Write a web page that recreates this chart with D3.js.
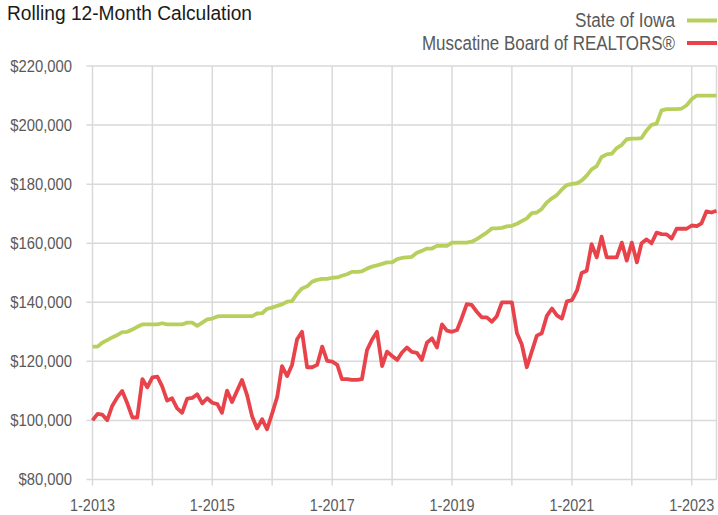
<!DOCTYPE html>
<html>
<head>
<meta charset="utf-8">
<script src="https://cdn.jsdelivr.net/npm/d3@7"></script>
<style>
  html, body { margin: 0; padding: 0; background: #fff; }
  svg { display: block; }
  text { font-family: "Liberation Sans", Arial, sans-serif; }
</style>
</head>
<body>
<svg id="chart" width="718" height="515"></svg>
<script>
const title = "Rolling 12-Month Calculation";
const seriesNames = ["State of Iowa", "Muscatine Board of REALTORS®"];
const seriesColors = ["#b6cf5d", "#e8434b"];
const startDate = new Date(2013, 0, 1);
const endDate = new Date(2023, 5, 1);
const xTickLabels = ["1-2013", "1-2015", "1-2017", "1-2019", "1-2021", "1-2023"];
const yTicks = [80000, 100000, 120000, 140000, 160000, 180000, 200000, 220000];

// State of Iowa (thousands of dollars), monthly Jan 2013 - Jun 2023
const iowa = [
  125, 125, 126.3, 127.2, 128.1, 128.9, 129.9, 130, 130.8, 131.7, 132.5, 132.5,
  132.5, 132.5, 132.9, 132.5, 132.5, 132.5, 132.5, 133.1, 133.1, 132, 133.1, 134.2,
  134.5, 135.2, 135.3, 135.3, 135.3, 135.3, 135.3, 135.3, 135.3, 136.2, 136.3, 137.8,
  138.2, 138.8, 139.3, 140.2, 140.4, 142.9, 144.7, 145.4, 147, 147.6, 147.9, 147.9,
  148.3, 148.4, 149, 149.5, 150.3, 150.3, 150.5, 151.4, 152.1, 152.5, 153, 153.5,
  153.5, 154.6, 155, 155.2, 155.4, 156.8, 157.4, 158.2, 158.2, 159.1, 159.1, 159.1,
  160.2, 160.2, 160.2, 160.2, 160.5, 161.4, 162.5, 163.6, 165, 165, 165.2, 165.7,
  165.9, 166.6, 167.5, 168.4, 170.2, 170.4, 171.6, 173.8, 175.2, 176.3, 178.2, 179.7,
  180.1, 180.3, 181.2, 182.9, 185, 186.1, 189.2, 190.1, 190.3, 192.2, 193.3, 195.2,
  195.4, 195.4, 195.6, 198.2, 200.1, 200.5, 205, 205.4, 205.4, 205.4, 205.6, 206.7,
  208.8, 210, 210, 210, 210, 210
];
// Muscatine Board of REALTORS® (thousands of dollars)
const muscatine = [
  100, 102.2, 102, 100.1, 104.9, 107.8, 110, 105.8, 101, 101, 114, 111.2,
  114.6, 114.8, 111.6, 106.7, 107.5, 104.1, 102.6, 107.4, 107.6, 108.9, 105.8, 107.5,
  106, 105.5, 102.6, 110.1, 106.2, 110, 113.7, 108.6, 101.3, 97.3, 100.4, 97,
  102.4, 108, 118.4, 115, 118.8, 127.5, 130, 118, 118, 118.8, 125, 120.2,
  119.9, 118.8, 114, 114, 113.7, 113.7, 114, 123.8, 127.4, 130, 118.4, 123.3,
  121.8, 120.5, 122.9, 124.7, 123.2, 122.9, 120.5, 126.3, 127.8, 124.7, 132.5, 130.4,
  130, 130.6, 134.6, 139.4, 139.1, 136.8, 134.9, 134.9, 133.4, 135.3, 140, 140,
  140, 129.5, 125.8, 118, 123.3, 128.7, 129.5, 135.4, 137.9, 135.6, 134.5, 140.3,
  140.7, 144, 149.9, 150.7, 159.7, 155.2, 162.2, 155.2, 155.2, 155.2, 160.2, 154.1,
  160.2, 153.5, 160, 161.3, 160, 163.6, 163.1, 163, 161.6, 164.9, 164.9, 164.9,
  166, 165.8, 166.7, 170.8, 170.4, 171
];

const months = d3.timeMonth.range(startDate, d3.timeMonth.offset(endDate, 1));
const series = [iowa, muscatine];

const svg = d3.select("#chart");
const margin = { left: 92.5, right: 1.5, top: 66, bottom: 35.5 };
const W = 718, H = 515;

const x = d3.scaleTime().domain([startDate, endDate]).range([margin.left, W - margin.right]);
const y = d3.scaleLinear().domain([80000, 220000]).range([H - margin.bottom, margin.top]);

const gridColor = "#d9d9d9";
const textColor = "#595959";

// condense text horizontally (narrow typeface look)
function condense(sel, factor) {
  sel.each(function () {
    const len = this.getComputedTextLength();
    d3.select(this).attr("textLength", len * factor).attr("lengthAdjust", "spacingAndGlyphs");
  });
}

// vertical gridlines (every January)
const yearTicks = d3.timeYear.range(startDate, d3.timeMonth.offset(endDate, 1));
svg.append("g").selectAll("line").data(yearTicks).join("line")
  .attr("x1", d => x(d)).attr("x2", d => x(d))
  .attr("y1", y(220000)).attr("y2", y(80000) + 6)
  .attr("stroke", gridColor).attr("stroke-width", 1.5);
// right edge line
svg.append("line")
  .attr("x1", x(endDate)).attr("x2", x(endDate))
  .attr("y1", y(220000)).attr("y2", y(80000))
  .attr("stroke", gridColor).attr("stroke-width", 1.5);

// horizontal gridlines
svg.append("g").selectAll("line").data(yTicks).join("line")
  .attr("x1", margin.left - 6).attr("x2", x(endDate))
  .attr("y1", d => y(d)).attr("y2", d => y(d))
  .attr("stroke", gridColor).attr("stroke-width", 1.5);

// y axis labels
const fmt = d3.format("$,");
svg.append("g").selectAll("text").data(yTicks).join("text")
  .attr("x", 72).attr("y", d => y(d)).attr("dy", "0.35em")
  .attr("text-anchor", "end").attr("fill", textColor)
  .attr("font-size", 16)
  .text(d => fmt(d))
  .call(condense, 0.925);

// x axis labels
const labelDates = xTickLabels.map(s => { const [m, yr] = s.split("-"); return new Date(+yr, +m - 1, 1); });
svg.append("g").selectAll("text").data(labelDates).join("text")
  .attr("x", d => x(d)).attr("y", 511)
  .attr("text-anchor", "middle").attr("fill", textColor)
  .attr("font-size", 16)
  .text((d, i) => xTickLabels[i])
  .call(condense, 0.9);

// lines
const line = d3.line().x((d, i) => x(months[i])).y(d => y(d * 1000)).curve(d3.curveLinear);
svg.append("g").selectAll("path").data(series).join("path")
  .attr("d", d => line(d))
  .attr("fill", "none")
  .attr("stroke", (d, i) => seriesColors[i])
  .attr("stroke-width", 3.8)
  .attr("stroke-linejoin", "round");

// title
svg.append("text").attr("x", 7).attr("y", 20)
  .attr("font-size", 20).attr("fill", "#1a1a1a").text(title)
  .attr("textLength", 245).attr("lengthAdjust", "spacingAndGlyphs");

// legend
const legendY = [20.5, 43];
const legendWidths = [100, 253];
const lg = svg.append("g").selectAll("g").data(seriesNames).join("g");
lg.append("text")
  .attr("x", 675).attr("y", (d, i) => legendY[i]).attr("dy", "0.35em")
  .attr("text-anchor", "end").attr("fill", textColor).attr("font-size", 19.5)
  .attr("textLength", (d, i) => legendWidths[i]).attr("lengthAdjust", "spacingAndGlyphs")
  .text(d => d);
lg.append("line")
  .attr("x1", 687).attr("x2", 717)
  .attr("y1", (d, i) => legendY[i]).attr("y2", (d, i) => legendY[i])
  .attr("stroke", (d, i) => seriesColors[i]).attr("stroke-width", 4);
</script>
</body>
</html>
